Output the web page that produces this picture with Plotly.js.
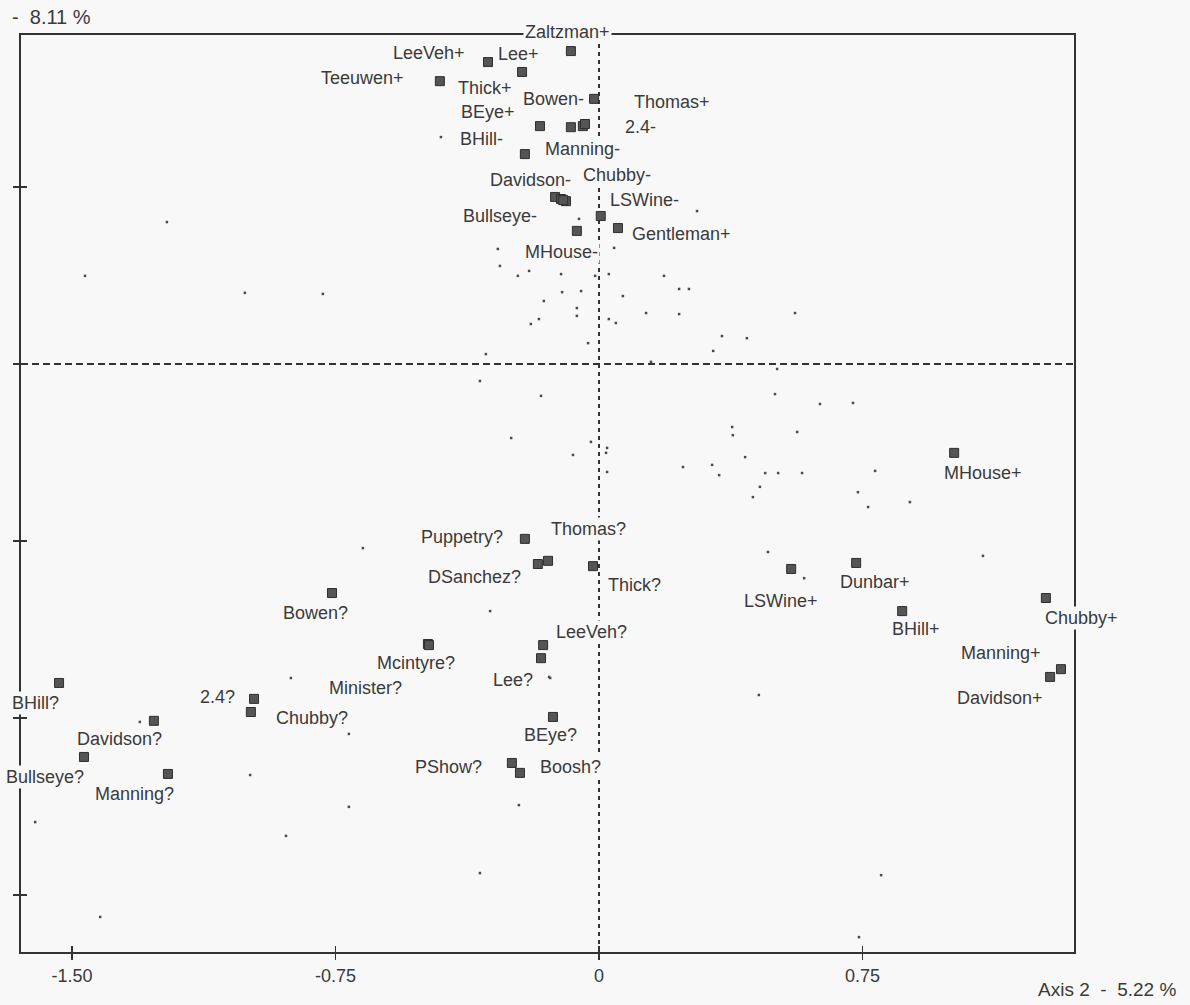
<!DOCTYPE html>
<html>
<head>
<meta charset="utf-8">
<script src="https://cdn.plot.ly/plotly-3.0.1.min.js"></script>
<style>
  html, body { margin: 0; padding: 0; background: #f8f8f8; }
  #chart { width: 1190px; height: 1005px; }
</style>
</head>
<body>
<div id="chart"></div>
<script>
// Modalities projected on the factorial plane (Axis 2 horizontal, Axis 1 vertical)
const pointLabels = [
  'Zaltzman+', 'LeeVeh+', 'Lee+', 'Teeuwen+', 'Thick+', 'BEye+', '2.4-', 'Thomas+', 'Bowen-',
  'BHill-', 'Davidson-', 'Manning-', 'Chubby-', 'MHouse-', 'LSWine-', 'Gentleman+', 'Bullseye-',
  'Puppetry?', 'DSanchez?', 'Thomas?', 'Thick?', 'Bowen?', 'Mcintyre?', 'Minister?', 'LeeVeh?',
  'Lee?', '2.4?', 'Chubby?', 'BHill?', 'Davidson?', 'Bullseye?', 'Manning?', 'BEye?', 'PShow?',
  'Boosh?', 'MHouse+', 'LSWine+', 'Dunbar+', 'BHill+', 'Chubby+', 'Manning+', 'Davidson+'
];
const pointX = [
  -0.080, -0.316, -0.219, -0.453, -0.168, -0.080, -0.046, -0.040, -0.014,
  -0.211, -0.125, -0.108, -0.094, -0.102, 0.005, 0.054, -0.063,
  -0.211, -0.174, -0.145, -0.017, -0.760, -0.487, -0.484, -0.159,
  -0.165, -0.982, -0.991, -1.537, -1.267, -1.466, -1.227, -0.131, -0.248,
  -0.225, 1.011, 0.547, 0.732, 0.863, 1.272, 1.315, 1.284
];
const pointY = [
  0.884, 0.853, 0.825, 0.799, 0.672, 0.669, 0.672, 0.678, 0.749,
  0.593, 0.472, 0.466, 0.460, 0.463, 0.418, 0.384, 0.376,
  -0.494, -0.565, -0.556, -0.571, -0.647, -0.791, -0.794, -0.794,
  -0.831, -0.946, -0.983, -0.901, -1.008, -1.110, -1.158, -0.997, -1.127,
  -1.155, -0.251, -0.579, -0.562, -0.698, -0.661, -0.862, -0.884
];

// Individuals (unlabelled small points)
const dotX = [
  -0.450, -1.230, -0.057, 0.279, 0.043, -0.288, -0.282, -0.199, -0.231, -0.108,
  0.028, 0.185, 0.228, 0.256, -0.105, -0.051, 0.068, -0.157, -0.063, -0.063,
  0.134, 0.228, 0.558, -0.171, -0.194, 0.028, 0.048, 0.350, 0.421, -0.031,
  0.325, -0.322, 0.148, 0.507, -1.463, -1.008, -0.786, -0.011, -0.339, -0.165,
  -0.250, -0.023, 0.023, 0.020, -0.074, 0.023, 0.381, 0.416, 0.239, 0.322,
  0.342, 0.473, 0.510, 0.578, 0.458, 0.438, 0.481, -0.310, -0.142, 0.501,
  0.629, 0.723, 0.379, 0.564, 0.786, 0.737, 0.766, 0.885, 1.093, 0.584,
  0.455, -0.672, -0.877, -0.139, -0.712, -0.993, -1.307, -0.712, -0.891, -1.605,
  -1.420, -0.228, -0.339, 0.803, 0.740
];
const dotY = [
  0.641, 0.401, 0.410, 0.432, 0.328, 0.325, 0.277, 0.263, 0.249, 0.254,
  0.254, 0.249, 0.212, 0.212, 0.203, 0.206, 0.192, 0.178, 0.158, 0.136,
  0.144, 0.141, 0.144, 0.127, 0.113, 0.127, 0.116, 0.079, 0.073, 0.059,
  0.037, 0.028, 0.006, -0.014, 0.249, 0.201, 0.198, 0.249, -0.048, -0.090,
  -0.209, -0.220, -0.237, -0.251, -0.257, -0.305, -0.201, -0.263, -0.291, -0.285,
  -0.314, -0.308, -0.308, -0.308, -0.347, -0.376, -0.531, -0.698, -0.884, -0.085,
  -0.113, -0.110, -0.178, -0.192, -0.302, -0.362, -0.404, -0.390, -0.542, -0.605,
  -0.935, -0.520, -0.887, -0.887, -1.045, -1.161, -1.011, -1.251, -1.333, -1.294,
  -1.562, -1.246, -1.438, -1.444, -1.619
];

// Axis ticks and titles
const xTickVals = [-1.5, -0.75, 0, 0.75];
const xTickText = ['-1.50', '-0.75', '0', '0.75'];
const yTickVals = [0.5, 0, -0.5, -1.0, -1.5];
const axis1Title = '-\u00a0\u00a08.11\u00a0%';
const axis2Title = 'Axis 2\u00a0\u00a0-\u00a0\u00a05.22\u00a0%';

// Label placement around each square (pixels, screen direction)
const labelDx = [
  -3, -59, -4, -77, -55, -83, 58, 87, -41,
  -43, -25, 21, 51, -2, 44, 64, -77,
  -63, -63, 40, 41, -17, -12, -63, 48,
  -28, -37, 61, -24, -34, -39, -33, -2, -63,
  51, 29, -10, 19, 14, 36, -60, -50
];
const labelDy = [
  -19, -9, -18, -3, -38, -15, 1, -22, 0,
  -15, -17, -50, -26, 52, -16, 6, -15,
  -2, 13, -32, 19, 20, 19, 43, -13,
  22, -2, 6, 20, 18, 20, 20, 18, 4,
  -6, 20, 32, 19, 18, 20, -16, 21
];

const FONT = 'Liberation Sans, Arial, Helvetica, sans-serif';
const INK = '#3a3a3a';
const PAPER = '#f8f8f8';
const X_RANGE = [-1.6453, 1.3521];
const Y_RANGE = [-1.6610, 0.9294];

const dots = {
  type: 'scatter', mode: 'markers',
  x: dotX, y: dotY, xaxis: 'x2', yaxis: 'y2',
  marker: { symbol: 'square', size: 2.5, color: '#4a4a4a' },
  hoverinfo: 'skip', showlegend: false
};

const points = {
  type: 'scatter', mode: 'markers',
  x: pointX, y: pointY, text: pointLabels,
  marker: { symbol: 'square', size: 9, color: '#555555', line: { color: '#2e2e2e', width: 1 } },
  hoverinfo: 'text', showlegend: false
};

const labelAnnotations = pointLabels.map((t, i) => ({
  x: pointX[i], y: pointY[i], xref: 'x', yref: 'y',
  text: t, showarrow: false,
  xanchor: 'center', yanchor: 'middle',
  xshift: labelDx[i], yshift: -labelDy[i],
  font: { family: FONT, size: 18, color: INK },
  bgcolor: PAPER, borderpad: 1
}));

const titleAnnotations = [
  { xref: 'paper', yref: 'paper', x: -0.0104, y: 1.0196, xanchor: 'left', yanchor: 'middle',
    text: axis1Title, showarrow: false, font: { family: FONT, size: 20, color: INK } },
  { xref: 'paper', yref: 'paper', x: 1.0988, y: -0.0414, xanchor: 'right', yanchor: 'middle',
    text: axis2Title, showarrow: false, font: { family: FONT, size: 19, color: INK } }
];

const baseAxis = { showgrid: false, zeroline: false, fixedrange: true };

const layout = {
  width: 1190, height: 1005,
  margin: { l: 21, r: 116, t: 35, b: 53, pad: 0 },
  paper_bgcolor: PAPER, plot_bgcolor: PAPER,
  showlegend: false,
  xaxis: Object.assign({}, baseAxis, {
    range: X_RANGE, showline: true, mirror: true, linecolor: '#333', linewidth: 2,
    ticks: 'outside', ticklen: 6, tickwidth: 1.5, tickcolor: '#333',
    tickmode: 'array', tickvals: xTickVals, ticktext: xTickText,
    tickfont: { family: FONT, size: 18, color: INK }, ticklabelstandoff: 0
  }),
  yaxis: Object.assign({}, baseAxis, {
    range: Y_RANGE, showline: true, mirror: true, linecolor: '#333', linewidth: 2,
    ticks: 'outside', ticklen: 6, tickwidth: 1.5, tickcolor: '#333',
    tickmode: 'array', tickvals: yTickVals, showticklabels: false
  }),
  xaxis2: Object.assign({}, baseAxis, {
    overlaying: 'x', anchor: 'y2', side: 'bottom', range: X_RANGE,
    ticks: 'inside', ticklen: 6, tickwidth: 1.5, tickcolor: '#333',
    tickmode: 'array', tickvals: xTickVals, showticklabels: false, showline: false
  }),
  yaxis2: Object.assign({}, baseAxis, {
    overlaying: 'y', anchor: 'x2', side: 'left', range: Y_RANGE,
    ticks: 'inside', ticklen: 6, tickwidth: 1.5, tickcolor: '#333',
    tickmode: 'array', tickvals: yTickVals, showticklabels: false, showline: false
  }),
  shapes: [
    { type: 'line', xref: 'x', yref: 'paper', x0: 0, x1: 0, y0: 0, y1: 1, layer: 'below',
      line: { color: '#333', width: 2, dash: '4px,4px' } },
    { type: 'line', xref: 'paper', yref: 'y', x0: 0, x1: 1, y0: 0, y1: 0, layer: 'below',
      line: { color: '#333', width: 2, dash: '7px,4px' } }
  ],
  annotations: labelAnnotations.concat(titleAnnotations)
};

Plotly.newPlot('chart', [dots, points], layout, { displayModeBar: false, staticPlot: true });
</script>
</body>
</html>
